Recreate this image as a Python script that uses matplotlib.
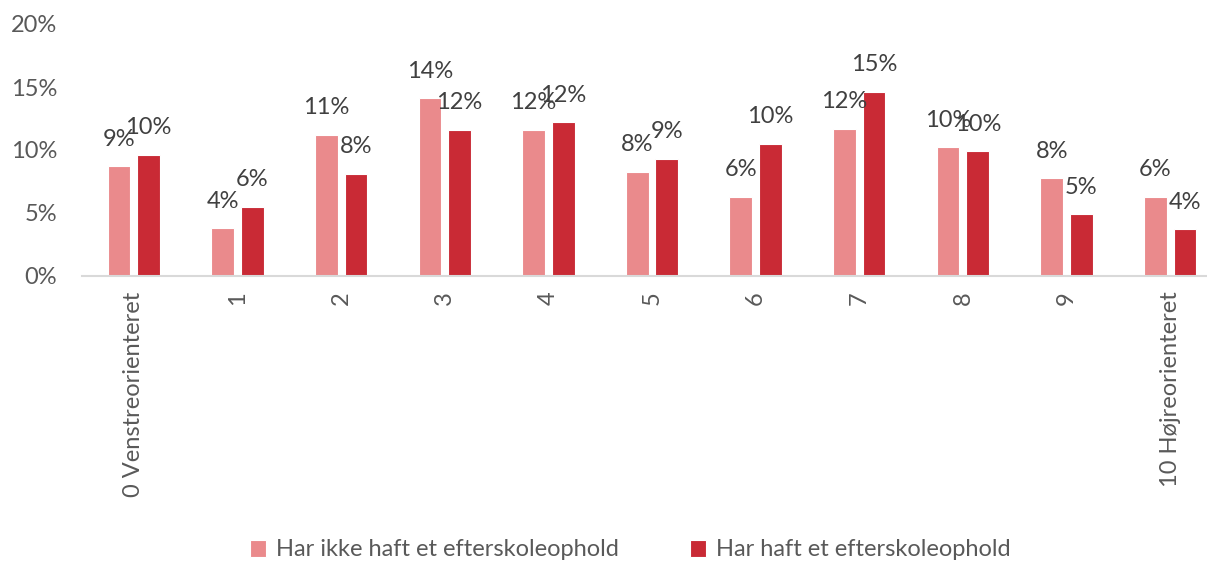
import numpy as np
import matplotlib.pyplot as plt

plt.rcParams['font.family'] = ['Lato', 'DejaVu Sans']

categories = ['0 Venstreorienteret', '1', '2', '3', '4', '5', '6', '7', '8', '9',
              '10 Højreorienteret']
no_stay = [8.7, 3.8, 11.2, 14.1, 11.6, 8.25, 6.3, 11.7, 10.2, 7.75, 6.3]
had_stay = [9.6, 5.5, 8.1, 11.6, 12.2, 9.3, 10.5, 14.6, 9.9, 4.9, 3.7]
series_names = ['Har ikke haft et efterskoleophold', 'Har haft et efterskoleophold']
yticks = [0, 5, 10, 15, 20]

light = '#EA8A8C'
dark = '#C92A35'
tick_color = '#595959'
label_color = '#404040'
fs = 17

fig = plt.figure(figsize=(12.07, 5.64), dpi=100)
ax = fig.add_axes([82/1207, 1-276/564, 1140/1207, 252/564])

x = np.arange(len(categories))
w = 0.22
off = 0.143
b1 = ax.bar(x - off, no_stay, w, color=light, edgecolor='white', linewidth=0.8, label=series_names[0])
b2 = ax.bar(x + off, had_stay, w, color=dark, edgecolor='white', linewidth=0.8, label=series_names[1])

for bars, vals in ((b1, no_stay), (b2, had_stay)):
	for rect, v in zip(bars, vals):
		ax.annotate('{:.0f}%'.format(v), (rect.get_x() + rect.get_width()/2, v),
					xytext=(0, 19.5), textcoords='offset points', ha='center', va='center',
					fontsize=fs, color=label_color)

ax.set_xlim(-0.5, len(categories) - 0.5)
ax.set_ylim(0, 20)
ax.set_yticks(yticks)
ax.set_yticklabels(['{}%'.format(t) for t in yticks])
ax.set_xticks(x)
ax.set_xticklabels(categories, rotation=90, va='top')
ax.tick_params(axis='both', length=0, colors=tick_color, labelsize=fs)
ax.tick_params(axis='y', pad=18)
ax.tick_params(axis='x', pad=11)

for s in ('top', 'right', 'left'):
	ax.spines[s].set_visible(False)
ax.spines['bottom'].set_color('#D9D9D9')
ax.spines['bottom'].set_linewidth(1.5)

leg = fig.legend(loc='center', bbox_to_anchor=(630/1207, 1-550/564), ncol=2, frameon=False,
				 fontsize=fs, handlelength=0.7, handleheight=0.7, handletextpad=0.4,
				 columnspacing=3.0)
for t in leg.get_texts():
	t.set_color(tick_color)

fig.savefig('out.png', dpi=100)
